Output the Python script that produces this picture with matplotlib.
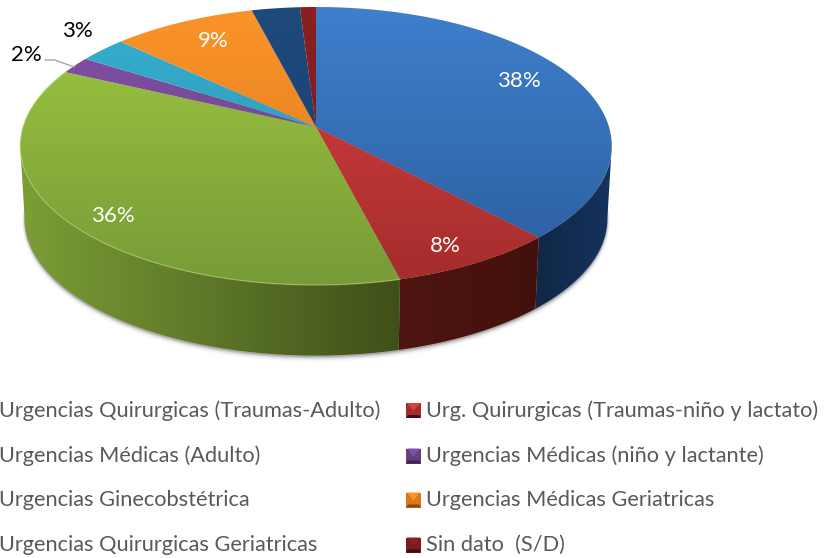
import numpy as np
import matplotlib
matplotlib.use("Agg")
import matplotlib.pyplot as plt
from matplotlib.colors import LinearSegmentedColormap as LSC
from matplotlib.patches import Polygon

categories = ["Urgencias Quirurgicas (Traumas-Adulto)", "Urg. Quirurgicas (Traumas-niño y lactato)",
              "Urgencias Médicas (Adulto)", "Urgencias Médicas (niño y lactante)",
              "Urgencias Ginecobstétrica", "Urgencias Médicas Geriatricas",
              "Urgencias Quirurgicas Geriatricas", "Sin dato  (S/D)"]
values = [38, 8, 36, 2, 3, 9, 3, 1]
shown_labels = [True, True, True, True, True, True, False, False]
label_colors = ["white", "white", "white", "black", "black", "white", "white", "white"]
label_xy = [(519, 81), (445, 246), (113, 216), (26, 55), (77, 31), (213, 41), None, None]
top_light = ["#3f7fcd", "#d8413f", "#9fc840", "#8350a8", "#36aed0", "#fb9428", "#20497c", "#8a2020"]
top_dark = ["#2a5d9c", "#a32c2c", "#769a38", "#67407f", "#2c94b0", "#d9761f", "#17406f", "#7a1c1c"]
wall_light = ["#102744", "#4f1511", "#7c9e36", "#4b2f63", "#1f6f85", "#a3570f", "#102a4e", "#4d0f0f"]
wall_dark = ["#16335f", "#42110d", "#3f4f1a", "#3b244f", "#1a5c70", "#8a490c", "#0d2340", "#3f0c0c"]

plt.rcParams["font.family"] = ["Lato", "DejaVu Sans"]
fig = plt.figure(figsize=(8.3, 5.58), dpi=100)
ax = fig.add_axes([0, 0, 1, 1])
ax.axis("off")

# projective circle -> screen mapping (perspective pie)
CX, CY, A, B, K = 316, 127, 293, 136.4, 0.1367
def project(theta, scale=1.0, cy=CY):
    s, c = np.sin(theta), np.cos(theta)
    den = 1 + K * c
    return CX + scale * A * s / den, cy - scale * B * c / den

LOW_S, LOW_CY = 0.985, 200
total = sum(values)
edges = np.radians(np.concatenate([[0], np.cumsum(values)]) / total * 360)

def grad(poly_xy, c0, c1, horizontal, zorder):
    poly = Polygon(poly_xy, closed=True, transform=ax.transData, fc="none", ec="none")
    ax.add_patch(poly)
    xs, ys = poly_xy[:, 0], poly_xy[:, 1]
    g = np.linspace(0, 1, 128)
    g = g[None, :] if horizontal else g[:, None]
    if horizontal:
        ext = (xs.min() - 1, xs.max() + 1, ys.max() + 1, ys.min() - 1)
    else:
        ext = (xs.min() - 1, xs.max() + 1, CY + B * 1.2, CY - B * 0.9)
    im = ax.imshow(g, extent=ext, cmap=LSC.from_list("g", [c0, c1]), vmin=0, vmax=1,
                   aspect="auto", zorder=zorder, interpolation="bilinear")
    im.set_clip_path(poly)

# soft shadow under the wall
tt = np.linspace(0, 2 * np.pi, 300)
for grow, alpha in [(3.5, .05), (2.5, .08), (1.5, .12), (0.7, .18)]:
    x, y = project(tt, LOW_S, LOW_CY)
    ax.fill(x, y + grow, color="#555555", alpha=alpha, lw=grow, ec="#555555", zorder=1)

# walls (between the silhouette tangent points of the ellipse)
TANGENT = np.arccos(-K)
FRONT0, FRONT1 = TANGENT, 2 * np.pi - TANGENT
for i in range(len(values)):
    a, b = max(edges[i], FRONT0), min(edges[i + 1], FRONT1)
    if b <= a:
        continue
    t = np.linspace(a, b, 100)
    xt, yt = project(t)
    xb, yb = project(t, LOW_S, LOW_CY)
    poly = np.column_stack([np.r_[xt, xb[::-1]], np.r_[yt, yb[::-1]]])
    grad(poly, wall_light[i], wall_dark[i], True, 2)

# top faces
for i in range(len(values)):
    t = np.linspace(edges[i], edges[i + 1], 160)
    x, y = project(t)
    poly = np.column_stack([np.r_[CX, x], np.r_[CY, y]])
    grad(poly, top_light[i], top_dark[i], False, 3)

# bevel highlight on the rim of the top face
t = np.linspace(edges[2], edges[3], 200)
x, y = project(t)
ax.plot(x, y, color="#b5d66a", lw=0.9, alpha=.6, zorder=4)

# data labels
for v, show, col, xy in zip(values, shown_labels, label_colors, label_xy):
    if show:
        ax.text(xy[0], xy[1], f"{v}%", color=col, fontsize=16, ha="center", va="center", zorder=6)
ax.plot([45, 55, 74], [60, 60, 67], color="#a6a6a6", lw=1, zorder=6)

# legend
legend_x = [-1, 426]
legend_y = [410.5, 456, 500, 545]
for i, name in enumerate(categories):
    col, row = i % 2, i // 2
    tx, ty = legend_x[col], legend_y[row]
    ax.text(tx, ty, name, color="#595959", fontsize=15.7, ha="left", va="center", zorder=6)
    m0, m1 = tx - 20, tx - 5
    y0, y1 = ty - 7.5, ty + 7.5
    ax.add_patch(Polygon([(m0, y0), (m1, y0), (m1, y1), (m0, y1)], fc=top_dark[i], ec="none", zorder=6))
    ax.add_patch(Polygon([(m0, y1), (m1, y1), (m1 - 2, y1 - 3), (m0 + 2, y1 - 3)], fc=wall_dark[i], ec="none", zorder=7))
    ax.add_patch(Polygon([(m0 + 1, y0), (m1 - 1, y0), ((m0 + m1) / 2, y0 + 8)], fc=top_light[i], ec="none", zorder=7))

ax.set_xlim(0, 830)
ax.set_ylim(558, 0)
fig.savefig("out.png", dpi=100, facecolor="white")
